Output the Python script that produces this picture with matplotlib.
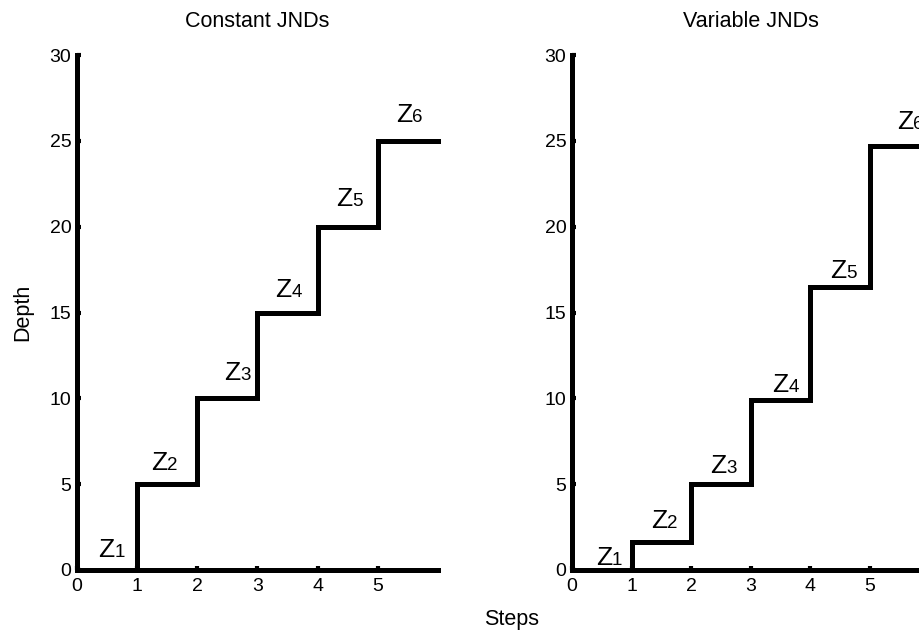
import numpy as np
import matplotlib.pyplot as plt

plt.rcParams['font.family'] = ['Liberation Sans', 'DejaVu Sans']

# Step levels (depth at each step)
steps = [0, 1, 2, 3, 4, 5, 6]
const_depth = [0, 5, 10, 15, 20, 25]
var_depth = [0, 1.65, 5, 9.9, 16.5, 24.7]

# Z label positions (data coords: centre x, baseline y)
const_lab_x = [0.55, 1.43, 2.64, 3.49, 4.5, 5.5]
const_lab_y = [0.76, 5.82, 11.07, 15.9, 21.2, 26.1]
var_lab_x = [0.6, 1.53, 2.52, 3.56, 4.53, 5.65]
var_lab_y = [0.29, 2.45, 5.65, 10.37, 17.0, 25.7]

fig = plt.figure(figsize=(9.2, 6.33), dpi=100)
ax1 = fig.add_axes([77/920, 63/633, 361/920, 515/633])
ax2 = fig.add_axes([572/920, 63/633, 357.6/920, 515/633])


def draw(ax, depth, lx, ly, title):
    # staircase: vertical rise at each integer step
    xs, ys = [0], [depth[0]]
    for i, d in enumerate(depth):
        xs += [i, i + 1]
        ys += [d, d]
    ax.plot(xs, ys, color='black', lw=3.6, solid_joinstyle='miter', clip_on=False)
    for i in range(len(depth)):
        ax.annotate('Z', (lx[i], ly[i]), xytext=(3, 0), textcoords='offset points',
                    ha='right', va='baseline', fontsize=19)
        ax.annotate(str(i + 1), (lx[i], ly[i]), xytext=(3, 0), textcoords='offset points',
                    ha='left', va='baseline', fontsize=13.5)
    ax.set_xlim(0, 6)
    ax.set_ylim(0, 30)
    ax.set_xticks([0, 1, 2, 3, 4, 5])
    ax.set_yticks([0, 5, 10, 15, 20, 25, 30])
    for s in ['top', 'right']:
        ax.spines[s].set_visible(False)
    for s in ['left', 'bottom']:
        ax.spines[s].set_linewidth(3.6)
    ax.tick_params(direction='in', length=3, width=3, labelsize=14)
    ax.tick_params(axis='x', pad=6)
    ax.tick_params(axis='y', pad=4)
    ax.set_title(title, fontsize=15.5, pad=20)


draw(ax1, const_depth, const_lab_x, const_lab_y, 'Constant JNDs')
draw(ax2, var_depth, var_lab_x, var_lab_y, 'Variable JNDs')

ax1.set_ylabel('Depth', fontsize=15.5, labelpad=12)
fig.text(512/920, 1 - 620/633, 'Steps', ha='center', va='center', fontsize=15.5)

fig.savefig('out.png', dpi=100)
